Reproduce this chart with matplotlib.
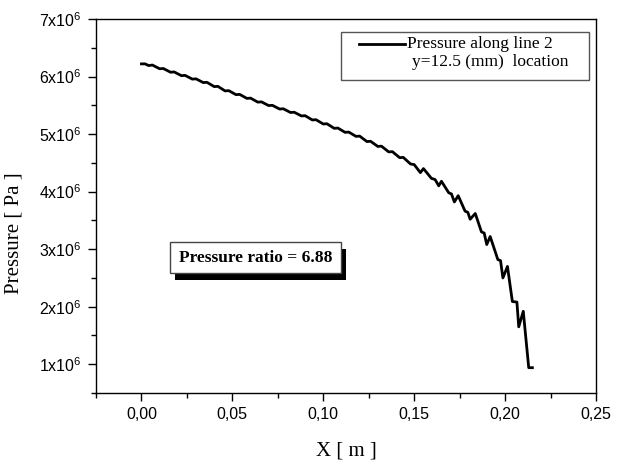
import matplotlib
matplotlib.use("Agg")
import matplotlib.pyplot as plt
import numpy as np
from matplotlib.patches import Rectangle
from matplotlib.lines import Line2D
from matplotlib.ticker import MultipleLocator, FuncFormatter

# position along line 2 [m]
x_m = [0.000, 0.002, 0.004, 0.006, 0.010, 0.012, 0.016, 0.018, 0.022, 0.024,
       0.028, 0.030, 0.034, 0.036, 0.040, 0.042, 0.046, 0.048, 0.052, 0.054,
       0.058, 0.060, 0.064, 0.066, 0.070, 0.072, 0.076, 0.078, 0.082, 0.084,
       0.088, 0.090, 0.094, 0.096, 0.100, 0.102, 0.106, 0.108, 0.112, 0.114,
       0.118, 0.120, 0.124, 0.126, 0.130, 0.132, 0.136, 0.138, 0.142, 0.144,
       0.148, 0.150, 0.1534, 0.1551, 0.1595, 0.1615, 0.1635, 0.1650, 0.1690, 0.1705,
       0.1721, 0.1742, 0.1780, 0.1795, 0.1808, 0.1836, 0.1870, 0.1885, 0.1899, 0.1918,
       0.1960, 0.1975, 0.1988, 0.2013, 0.2040, 0.2065, 0.2075, 0.2100, 0.2130, 0.2150]

# pressure [x10^6 Pa]
p_e6 = [6.22, 6.22, 6.19, 6.20, 6.135, 6.14, 6.075, 6.08, 6.015, 6.02,
        5.955, 5.96, 5.895, 5.90, 5.825, 5.83, 5.75, 5.755, 5.685, 5.69,
        5.62, 5.625, 5.555, 5.56, 5.495, 5.50, 5.435, 5.44, 5.375, 5.38,
        5.315, 5.32, 5.245, 5.25, 5.175, 5.18, 5.10, 5.105, 5.03, 5.035,
        4.96, 4.965, 4.87, 4.875, 4.785, 4.79, 4.69, 4.695, 4.59, 4.595,
        4.48, 4.47, 4.33, 4.40, 4.23, 4.21, 4.10, 4.18, 3.98, 3.96,
        3.82, 3.93, 3.66, 3.64, 3.52, 3.62, 3.30, 3.28, 3.08, 3.22,
        2.82, 2.80, 2.50, 2.70, 2.09, 2.08, 1.65, 1.92, 0.94, 0.94]

legend_lines = ["Pressure along line 2", "y=12.5 (mm)  location"]
ratio_text = "Pressure ratio = 6.88"

plt.rcParams["mathtext.fontset"] = "custom"
plt.rcParams["mathtext.rm"] = "Liberation Sans"
plt.rcParams["mathtext.default"] = "regular"

fig = plt.figure(figsize=(6.17, 4.61), dpi=100)
ax = fig.add_axes([96 / 617, 1 - 393 / 461, 500 / 617, 374 / 461])

pressure = np.array(p_e6) * 1e6
ax.plot(x_m, pressure, color="black", lw=2.0)

ax.set_xlim(-0.025, 0.25)
ax.set_ylim(0.5e6, 7e6)
ax.xaxis.set_major_locator(MultipleLocator(0.05))
ax.xaxis.set_minor_locator(MultipleLocator(0.025))
ax.yaxis.set_major_locator(MultipleLocator(1e6))
ax.yaxis.set_minor_locator(MultipleLocator(0.5e6))
ax.xaxis.set_major_formatter(FuncFormatter(lambda v, _: f"{v:.2f}".replace(".", ",")))
ax.yaxis.set_major_formatter(FuncFormatter(lambda v, _: f"{v / 1e6:.0f}x10$^{{6}}$"))

ax.tick_params(which="both", direction="out", top=False, right=False, width=1.0)
ax.tick_params(which="major", length=6, pad=4, labelsize=11.5)
ax.tick_params(which="minor", length=3.5)
for lab in ax.get_xticklabels() + ax.get_yticklabels():
    lab.set_fontfamily("Liberation Sans")
for sp in ax.spines.values():
    sp.set_linewidth(1.0)

ax.set_xlabel("X [ m ]", family="Liberation Serif", fontsize=15, labelpad=14)
ax.set_ylabel("Pressure [ Pa ]", family="Liberation Serif", fontsize=15)
ax.yaxis.set_label_coords(-0.145, 0.428)

# legend box drawn by hand (handle sits on the first line)
ax.add_patch(Rectangle((0.49, 0.837), 0.496, 0.128, transform=ax.transAxes,
                       facecolor="white", edgecolor="#555555", lw=1.0, zorder=5))
ax.add_line(Line2D([0.526, 0.618], [0.933, 0.933], transform=ax.transAxes,
                   color="black", lw=2.0, zorder=6))
ax.text(0.622, 0.933, legend_lines[0], transform=ax.transAxes, family="Liberation Serif",
        fontsize=12.5, va="center", ha="left", zorder=6)
ax.text(0.632, 0.885, legend_lines[1], transform=ax.transAxes, family="Liberation Serif",
        fontsize=12.5, va="center", ha="left", zorder=6)

# pressure ratio box with drop shadow
ax.add_patch(Rectangle((0.158, 0.302), 0.342, 0.083, transform=ax.transAxes,
                       facecolor="black", edgecolor="black", lw=0, zorder=5))
ax.add_patch(Rectangle((0.148, 0.321), 0.342, 0.083, transform=ax.transAxes,
                       facecolor="white", edgecolor="#444444", lw=1.0, zorder=6))
ax.text(0.319, 0.362, ratio_text, transform=ax.transAxes, family="Liberation Serif",
        fontsize=12.5, fontweight="bold", va="center", ha="center", zorder=7)

fig.savefig("out.png", dpi=100)
